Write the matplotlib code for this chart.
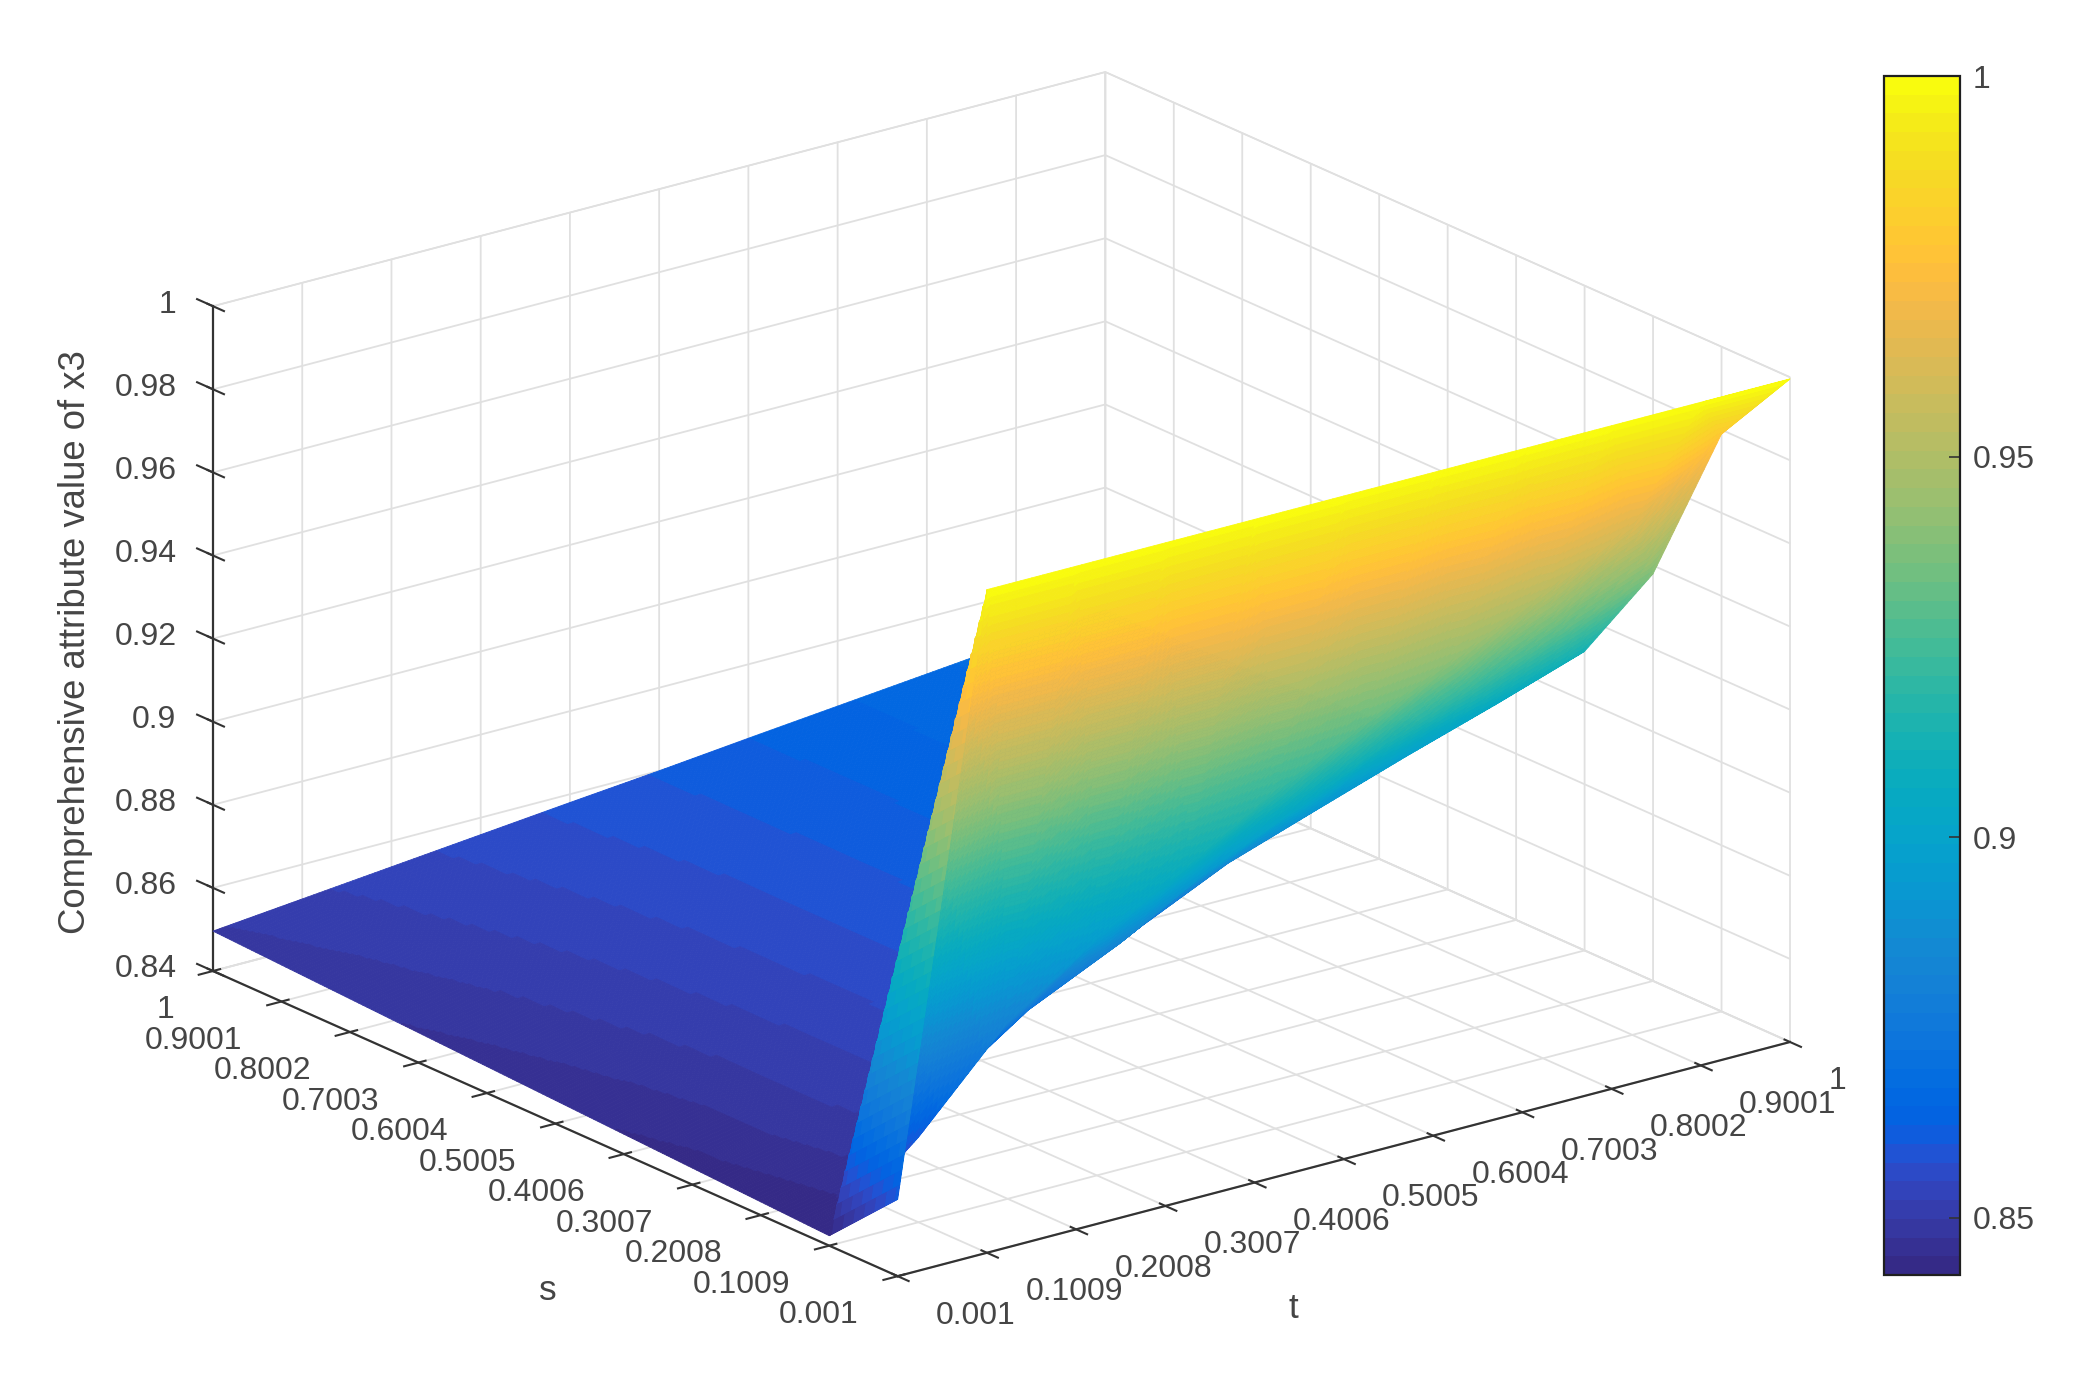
import numpy as np
import matplotlib
matplotlib.use("Agg")
import matplotlib.pyplot as plt
from matplotlib.colors import ListedColormap, Normalize
from matplotlib.cm import ScalarMappable
from mpl_toolkits.mplot3d import proj3d

# ---------- data ----------
s_values = [0.001, 0.1009, 0.2008, 0.3007, 0.4006, 0.5005, 0.6004, 0.7003, 0.8002, 0.9001, 1.0]
t_values = [0.001, 0.1009, 0.2008, 0.3007, 0.4006, 0.5005, 0.6004, 0.7003, 0.8002, 0.9001, 1.0]
tick_labels = ["0.001", "0.1009", "0.2008", "0.3007", "0.4006", "0.5005", "0.6004", "0.7003", "0.8002", "0.9001", "1"]
z_ticks = [0.84, 0.86, 0.88, 0.9, 0.92, 0.94, 0.96, 0.98, 1.0]
z_tick_labels = ["0.84", "0.86", "0.88", "0.9", "0.92", "0.94", "0.96", "0.98", "1"]
cbar_ticks = [0.85, 0.9, 0.95, 1.0]
cbar_tick_labels = ["0.85", "0.9", "0.95", "1"]

z_s00 = [.8585, .9996, .9996, .9996, .9996, .9996, .9996, .9996, .9996, .9996, .9996]
z_s01 = [.8424, .8605, .8825, .8970, .9085, .9215, .9320, .9420, .9520, .9630, .9790]
z_s02 = [.8432, .8472, .8580, .8725, .8825, .8945, .9040, .9140, .9220, .9300, .9380]
z_s03 = [.8440, .8480, .8512, .8548, .8640, .8735, .8835, .8908, .8980, .9048, .9120]
z_s04 = [.8448, .8480, .8512, .8544, .8576, .8608, .8680, .8760, .8830, .8900, .8960]
z_s05 = [.8456, .8485, .8514, .8543, .8572, .8601, .8630, .8659, .8688, .8720, .8800]
z_s06 = [.8464, .8491, .8518, .8545, .8572, .8599, .8626, .8653, .8680, .8707, .8734]
z_s07 = [.8472, .8497, .8522, .8547, .8572, .8597, .8622, .8647, .8672, .8697, .8722]
z_s08 = [.8480, .8504, .8527, .8551, .8574, .8598, .8621, .8645, .8668, .8692, .8715]
z_s09 = [.8488, .8510, .8533, .8555, .8577, .8599, .8621, .8643, .8666, .8688, .8710]
z_s10 = [.8496, .8517, .8538, .8559, .8580, .8600, .8622, .8643, .8664, .8685, .8706]

parula_rgb = [
    (.2081,.1663,.5292),(.2116,.1898,.5777),(.2123,.2138,.6270),(.2081,.2386,.6771),(.1959,.2645,.7279),
    (.1707,.2919,.7792),(.1253,.3242,.8303),(.0591,.3598,.8683),(.0117,.3875,.8820),(.0060,.4086,.8828),
    (.0165,.4266,.8786),(.0329,.4430,.8720),(.0498,.4586,.8641),(.0629,.4737,.8554),(.0723,.4887,.8467),
    (.0779,.5040,.8384),(.0793,.5200,.8312),(.0749,.5375,.8263),(.0641,.5570,.8240),(.0488,.5772,.8228),
    (.0343,.5966,.8199),(.0265,.6137,.8135),(.0239,.6287,.8038),(.0231,.6418,.7913),(.0228,.6535,.7768),
    (.0267,.6642,.7607),(.0384,.6743,.7436),(.0590,.6838,.7254),(.0843,.6928,.7062),(.1133,.7015,.6859),
    (.1453,.7098,.6646),(.1801,.7177,.6424),(.2178,.7250,.6193),(.2586,.7317,.5954),(.3022,.7376,.5712),
    (.3482,.7424,.5473),(.3953,.7459,.5244),(.4420,.7481,.5033),(.4871,.7491,.4840),(.5300,.7491,.4661),
    (.5709,.7485,.4494),(.6099,.7473,.4337),(.6473,.7456,.4188),(.6834,.7435,.4044),(.7184,.7411,.3905),
    (.7525,.7384,.3768),(.7858,.7356,.3633),(.8185,.7327,.3498),(.8507,.7299,.3360),(.8824,.7274,.3217),
    (.9139,.7258,.3063),(.9450,.7261,.2886),(.9739,.7314,.2666),(.9938,.7455,.2403),(.9990,.7653,.2164),
    (.9955,.7861,.1967),(.9880,.8066,.1794),(.9789,.8271,.1633),(.9697,.8481,.1475),(.9626,.8705,.1309),
    (.9589,.8949,.1132),(.9598,.9218,.0948),(.9661,.9514,.0755),(.9763,.9831,.0538)]

Z_TABLE = np.array([z_s00, z_s01, z_s02, z_s03, z_s04, z_s05, z_s06, z_s07, z_s08, z_s09, z_s10])
S_ARR, T_ARR = np.array(s_values), np.array(t_values)

# ---------- style ----------
plt.rcParams["font.family"] = ["Liberation Sans", "DejaVu Sans"]
plt.rcParams["grid.color"] = (0.88, 0.88, 0.88)
plt.rcParams["grid.linewidth"] = 1.3
plt.rcParams["grid.linestyle"] = "-"
TEXT = (0.27, 0.27, 0.27)
AXC = (0.2, 0.2, 0.2)
TICK_FS = 23
LABEL_FS = 26.3

W, H = 2094, 1380
fig = plt.figure(figsize=(W / 100, H / 100), dpi=100, facecolor="white")

parula = ListedColormap(parula_rgb, name="parula64")
norm = Normalize(vmin=0.8425, vmax=1.0)


def shading_mesh(s_knots, t_knots, table, ns_cell, nt_cell):
    """Subdivide each facet (two flat triangles, as the surface is rendered) so the
    colour can vary inside it; the corner values stay those of the table."""
    ss, ts, us, vs, iis, jjs = [], [], [], [], [], []
    for i in range(len(s_knots) - 1):
        u = np.linspace(0, 1, ns_cell[i] + 1)[:-1]
        ss += list(s_knots[i] + u * (s_knots[i + 1] - s_knots[i]))
        us += list(u); iis += [i] * len(u)
    ss.append(s_knots[-1]); us.append(1.0); iis.append(len(s_knots) - 2)
    for j in range(len(t_knots) - 1):
        v = np.linspace(0, 1, nt_cell[j] + 1)[:-1]
        ts += list(t_knots[j] + v * (t_knots[j + 1] - t_knots[j]))
        vs += list(v); jjs += [j] * len(v)
    ts.append(t_knots[-1]); vs.append(1.0); jjs.append(len(t_knots) - 2)
    U, V = np.meshgrid(us, vs, indexing="ij")
    I, J = np.meshgrid(iis, jjs, indexing="ij")
    a, b = table[I, J], table[I + 1, J]
    c, d = table[I, J + 1], table[I + 1, J + 1]
    # main-diagonal split of each facet
    Zf = np.where(U >= V, a + (b - a) * U + (d - b) * V, a + (d - c) * U + (c - a) * V)
    # the corner facet folds along the other diagonal
    corner = (I == 0) & (J == 0)
    anti = np.where(U + V <= 1, a + (b - a) * U + (c - a) * V,
                    d + (c - d) * (1 - U) + (b - d) * (1 - V))
    Zf = np.where(corner, anti, Zf)
    Tf, Sf = np.meshgrid(ts, ss)
    return Tf, Sf, Zf


ax = fig.add_axes([0.1, 0.1, 0.6, 0.6], projection="3d", computed_zorder=False)
ax.patch.set_alpha(0)
ax.set_proj_type("ortho")
ax.view_init(elev=20, azim=-127.5)
ax.set_xlim(T_ARR[0], T_ARR[-1], view_margin=0)
ax.set_ylim(S_ARR[0], S_ARR[-1], view_margin=0)
ax.set_zlim(0.84, 1.0, view_margin=0)
ASPECT = (1, 1, 0.629)
zoom = 1.0
ax.set_box_aspect(ASPECT, zoom=zoom)

ns = [110] + [16] * 9
nt = [40] + [16] * 9
Tf, Sf, Zf = shading_mesh(S_ARR, T_ARR, Z_TABLE, ns, nt)
Zc = (Zf[:-1, :-1] + Zf[1:, :-1] + Zf[:-1, 1:] + Zf[1:, 1:]) / 4
face_rgba = parula(norm(Zc))
surf = ax.plot_surface(Tf, Sf, Zf, rstride=1, cstride=1, facecolors=face_rgba,
                       linewidth=0.6, antialiased=True, shade=False)
surf.set_edgecolor(surf._facecolor3d)
surf.set_clip_on(False)

ax.set_xticks(t_values); ax.set_xticklabels(tick_labels)
ax.set_yticks(s_values); ax.set_yticklabels(tick_labels)
ax.set_zticks(z_ticks); ax.set_zticklabels(z_tick_labels)

for axis in (ax.xaxis, ax.yaxis, ax.zaxis):
    axis.set_pane_color((1, 1, 1, 1))
    axis.pane.set_edgecolor((0.85, 0.85, 0.85))
    axis.line.set_color(AXC)
    axis.line.set_linewidth(1.6)
    axis._axinfo["tick"].update(inward=0.0, outward=0.27)
    axis._axinfo["tick"]["linewidth"] = {True: 1.5, False: 1.0}
    axis.set_ticks_position("lower")
ax.zaxis._axinfo["juggled"] = (1, 2, 0)
ax.zaxis._axinfo["tick"].update(inward=0.0, outward=0.0)

# z ticks stick out behind the left edge, along +s
z_tick_len = 0.0246
for zt in z_ticks:
    ln, = ax.plot([T_ARR[0], T_ARR[0]], [S_ARR[-1], S_ARR[-1] + z_tick_len], [zt, zt],
                  color=AXC, lw=1.5, solid_capstyle="butt", zorder=5)
    ln.set_clip_on(False)

ax.tick_params(axis="both", labelsize=TICK_FS, labelcolor=TEXT, color=AXC)
ax.tick_params(axis="z", labelsize=TICK_FS, labelcolor=TEXT, color=AXC)
ax.tick_params(axis="x", pad=21)
ax.tick_params(axis="y", pad=14.5)
ax.tick_params(axis="z", pad=4)
for lb in ax.get_xticklabels():
    lb.set_ha("left"); lb.set_va("bottom")
for lb in ax.get_yticklabels():
    lb.set_ha("right"); lb.set_va("center")
for lb in ax.get_zticklabels():
    lb.set_ha("right"); lb.set_va("center")


def corner_px(t, s, z):
    x, y, _ = proj3d.proj_transform(t, s, z, ax.get_proj())
    return ax.transData.transform((x, y))


# layout: size the box so its corners land where the reference has them
side = 1380.0
cx, cy = 1001.0, H - 673.0
for _ in range(3):
    ax.set_position([(cx - side / 2) / W, (cy - side / 2) / H, side / W, side / H])
    ax.set_box_aspect(ASPECT, zoom=zoom)
    fig.canvas.draw()
    left = corner_px(T_ARR[0], S_ARR[-1], 0.84)
    right = corner_px(T_ARR[-1], S_ARR[0], 0.84)
    zoom *= 1577.0 / (right[0] - left[0])
    ax.set_box_aspect(ASPECT, zoom=zoom)
    fig.canvas.draw()
    left = corner_px(T_ARR[0], S_ARR[-1], 0.84)
    cx += 213.0 - left[0]
    cy += (H - 971.0) - left[1]
ax.set_position([(cx - side / 2) / W, (cy - side / 2) / H, side / W, side / H])

# axis titles
fig.text(548 / W, 1 - 1291 / H, "s", fontsize=LABEL_FS - 1, color=TEXT, ha="center", va="center")
fig.text(1293 / W, 1 - 1309 / H, "t", fontsize=LABEL_FS - 1, color=TEXT, ha="center", va="center")
fig.text(76 / W, 1 - 642 / H, "Comprehensive attribute value of x3", fontsize=LABEL_FS,
         color=TEXT, rotation=90, ha="center", va="center")

# colour bar
cax = fig.add_axes([1884 / W, 1 - 1275 / H, 76 / W, (1275 - 76) / H])
cb = fig.colorbar(ScalarMappable(norm=norm, cmap=parula), cax=cax)
cb.set_ticks(cbar_ticks, labels=cbar_tick_labels)
cb.ax.tick_params(labelsize=TICK_FS, labelcolor=TEXT, direction="in", length=8, width=1.2, color=AXC, pad=9)
cb.outline.set_edgecolor((0.12, 0.12, 0.12))
cb.outline.set_linewidth(1.6)

fig.savefig("out.png", dpi=100, facecolor="white")
